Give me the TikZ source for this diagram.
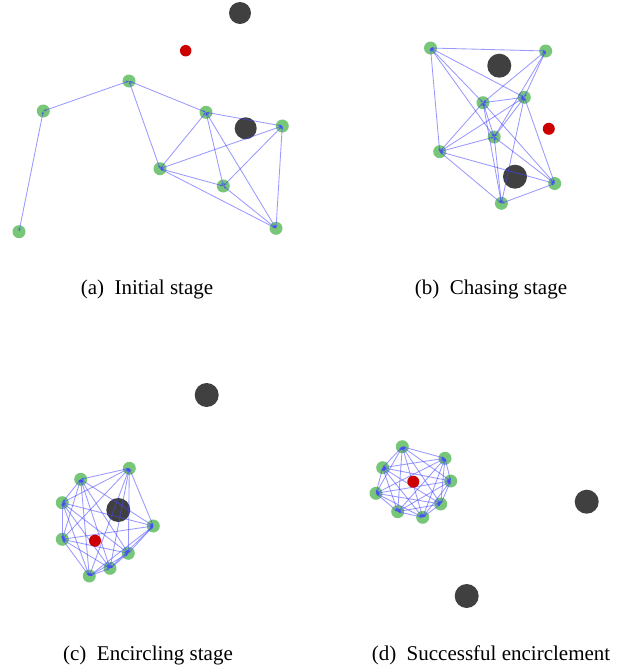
\documentclass[tikz,border=0pt]{standalone}
\usepackage{fontspec}
\setmainfont{Liberation Serif}
\usetikzlibrary{arrows.meta}
\definecolor{agentgreen}{RGB}{120,198,120}
\definecolor{targetred}{RGB}{204,0,0}
\definecolor{obstaclegray}{RGB}{64,64,64}
\definecolor{linkblue}{RGB}{70,70,255}
\begin{document}
\begin{tikzpicture}[x=1pt,y=-1pt,
  agent/.style={circle,fill=agentgreen,minimum size=13pt,inner sep=0pt},
  target/.style={circle,fill=targetred,minimum size=12pt,inner sep=0pt},
  obstacle/.style={circle,fill=obstaclegray,minimum size=24pt,inner sep=0pt},
  link/.style={draw=linkblue,draw opacity=0.55,line width=0.85pt,
    {Stealth[length=3.5pt,width=2.6pt]}-{Stealth[length=3.5pt,width=2.6pt]}},
  caption/.style={font=\fontsize{21}{25}\selectfont,anchor=base}]
\useasboundingbox (0,0) rectangle (633,665);

% ---------------- (a) initial stage ----------------
\node[obstacle,minimum size=22pt] (oa1) at (240,13) {};
\node[obstacle,minimum size=22pt] (oa2) at (245.7,128.3) {};
\node[agent] (a1) at (129,81) {};
\node[agent] (a2) at (43.3,111) {};
\node[agent] (a3) at (206,112.3) {};
\node[agent] (a4) at (282.3,126) {};
\node[agent] (a5) at (160,168.7) {};
\node[agent] (a6) at (223.3,186) {};
\node[agent] (a7) at (276,228.3) {};
\node[agent] (a8) at (19,231.7) {};
\foreach \u/\v in {a8/a2,a2/a1,a1/a3,a1/a5,a3/a4,a3/a5,a3/a6,a3/a7,
                   a4/a5,a4/a6,a4/a7,a5/a6,a5/a7,a6/a7}
  \draw[link] (\u.center) -- (\v.center);
\node[target,minimum size=11.5pt] (ta) at (185.7,50.7) {};
\node[caption] (capa) at (147,294.5) {(a)\hspace{0.5em}Initial stage};

% ---------------- (b) chasing stage ----------------
\node[obstacle] (ob1) at (499.3,65.7) {};
\node[obstacle] (ob2) at (515,176.7) {};
\node[agent] (b1) at (430.5,48) {};
\node[agent] (b2) at (545.7,51) {};
\node[agent] (b3) at (483,102.7) {};
\node[agent] (b4) at (524.3,97.3) {};
\node[agent] (b5) at (494.2,137) {};
\node[agent] (b6) at (439.7,151.7) {};
\node[agent] (b7) at (554.7,183.5) {};
\node[agent] (b8) at (501.4,203.3) {};
\foreach \u/\v in {b1/b2,b1/b3,b1/b4,b1/b5,b1/b6,b2/b3,b2/b4,b2/b5,
                   b3/b4,b3/b5,b3/b6,b3/b7,b3/b8,b4/b5,b4/b6,b4/b7,b4/b8,
                   b5/b6,b5/b7,b5/b8,b6/b7,b6/b8,b7/b8}
  \draw[link] (\u.center) -- (\v.center);
\node[target] (tb) at (548.8,128.8) {};
\node[caption] (capb) at (491,294.5) {(b)\hspace{0.5em}Chasing stage};

% ---------------- (c) encircling stage ----------------
\node[obstacle] (oc1) at (206.7,395) {};
\node[obstacle] (oc2) at (118.3,510) {};
\node[agent] (c1) at (80.7,479.3) {};
\node[agent] (c2) at (129.3,468.3) {};
\node[agent] (c3) at (62.3,502.7) {};
\node[agent] (c4) at (153.3,526) {};
\node[agent] (c5) at (62.3,539.3) {};
\node[agent] (c6) at (128.3,553.3) {};
\node[agent] (c7) at (110,568.3) {};
\node[agent] (c8) at (89.3,576) {};
\foreach \i in {1,...,7}{
  \pgfmathtruncatemacro\nxt{\i+1}
  \foreach \j in {\nxt,...,8}
    \draw[link] (c\i.center) -- (c\j.center);
}
\node[target] (tc) at (95,540.7) {};
\node[caption] (capc) at (148,660) {(c)\hspace{0.5em}Encircling stage};

% ---------------- (d) successful encirclement ----------------
\node[obstacle] (od1) at (586.7,501.7) {};
\node[obstacle] (od2) at (466.7,596) {};
\node[agent] (d1) at (402.3,446.7) {};
\node[agent] (d2) at (445,458.3) {};
\node[agent] (d3) at (382.7,467.7) {};
\node[agent] (d4) at (450.7,481) {};
\node[agent] (d5) at (376,493.3) {};
\node[agent] (d6) at (440.7,504) {};
\node[agent] (d7) at (397.7,511.7) {};
\node[agent] (d8) at (422.7,517.3) {};
\foreach \i in {1,...,7}{
  \pgfmathtruncatemacro\nxt{\i+1}
  \foreach \j in {\nxt,...,8}
    \draw[link] (d\i.center) -- (d\j.center);
}
\node[target] (td) at (413.3,481.7) {};
\node[caption] (capd) at (491,660) {(d)\hspace{0.5em}Successful encirclement};
\end{tikzpicture}
\end{document}
